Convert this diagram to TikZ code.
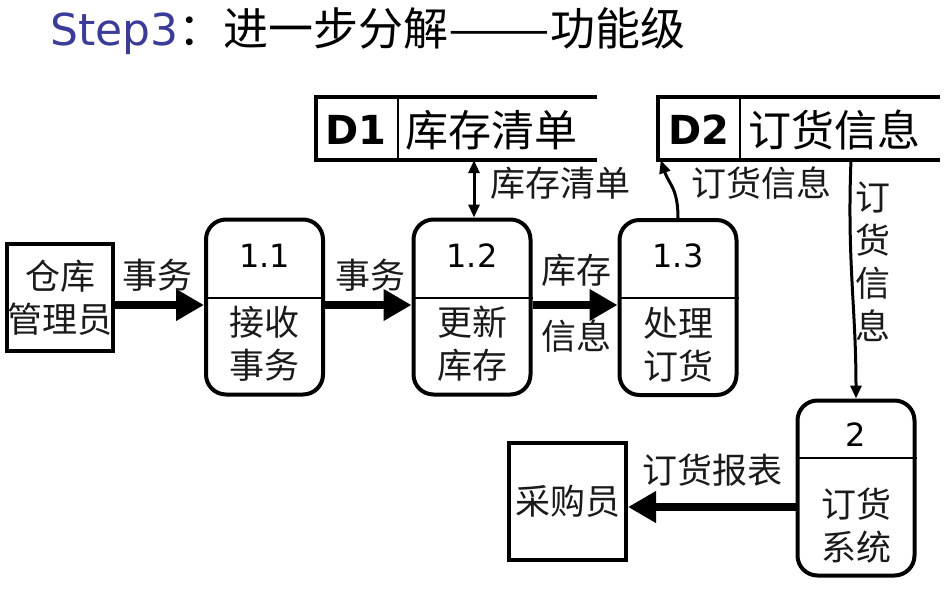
\documentclass[tikz,border=0pt]{standalone}
\usepackage{fontspec}
\setmainfont{DejaVu Sans}
\newfontfamily\cjk{Noto Sans CJK SC}
\usetikzlibrary{arrows.meta}
\definecolor{titleblue}{HTML}{3B3B98}
\definecolor{txt}{HTML}{1A1A1A}
\begin{document}
\begin{tikzpicture}[x=1pt,y=-1pt,
  actor/.style={draw,line width=4pt,minimum width=106pt,minimum height=107pt,inner sep=0pt},
  proc/.style={draw,line width=4pt,rounded corners=20pt,minimum width=117pt,minimum height=175pt,inner sep=0pt},
  divider/.style={line width=2pt},
  cn/.style={font=\cjk\fontsize{35}{43}\selectfont,text=txt,align=center,inner sep=0pt},
  num/.style={font=\fontsize{32}{38}\selectfont,inner sep=0pt},
  storelbl/.style={font=\cjk\fontsize{43}{48}\selectfont,inner sep=0pt},
  storeid/.style={font=\bfseries\fontsize{40}{48}\selectfont,inner sep=0pt},
  bigarrow/.style={line width=8pt,-{Triangle[length=28pt,width=30pt]}},
  thinarrow/.style={line width=3pt,-{Triangle[length=13pt,width=11pt]}},
  thinboth/.style={line width=3pt,{Triangle[length=13pt,width=11pt]}-{Triangle[length=13pt,width=11pt]}}
]
\useasboundingbox (0,0) rectangle (946,595);

% title
\node[anchor=base west,inner sep=0pt] (title) at (50,45)
  {\textcolor{titleblue}{\fontsize{44}{50}\selectfont Step3}{\cjk\fontsize{45}{50}\selectfont ：进一步分解\scalebox{1.35}[1]{——}功能级}};

% external entities
\node[actor,cn] (a1) at (60,297.5) {仓库\\管理员};
\node[actor,cn,minimum width=117pt,minimum height=117pt] (a2) at (567.5,501.5) {采购员};

% processes
\node[proc] (p11) at (264.5,307) {};
\node[num] (n11) at (264.5,256) {1.1};
\node[cn] (t11) at (264.5,344) {接收\\事务};
\draw[divider] (p11.west |- 0,298) -- (p11.east |- 0,298);

\node[proc] (p12) at (472,307) {};
\node[num] (n12) at (472,256) {1.2};
\node[cn] (t12) at (472,344) {更新\\库存};
\draw[divider] (p12.west |- 0,298) -- (p12.east |- 0,298);

\node[proc] (p13) at (678,307.5) {};
\node[num] (n13) at (678,256) {1.3};
\node[cn] (t13) at (678,345) {处理\\订货};
\draw[divider] (p13.west |- 0,298) -- (p13.east |- 0,298);

\node[proc] (p2) at (856,488) {};
\node[num] (n2) at (856,435) {2};
\node[cn] (t2) at (856,526) {订货\\系统};
\draw[divider] (p2.west |- 0,458) -- (p2.east |- 0,458);

% data stores
\node[minimum width=281pt,minimum height=63pt,inner sep=0pt] (d1) at (456.5,128.5) {};
\draw[line width=4pt] (d1.north east) -- (d1.north west) -- (d1.south west) -- (d1.south east);
\draw[line width=1.5pt] (d1.north west -| 398,0) -- (d1.south west -| 398,0);
\node[storeid] (d1id) at (356,130) {D1};
\node[storelbl] (d1t) at (491,130) {库存清单};

\node[minimum width=282pt,minimum height=63pt,inner sep=0pt] (d2) at (799,128.5) {};
\draw[line width=4pt] (d2.north east) -- (d2.north west) -- (d2.south west) -- (d2.south east);
\draw[line width=1.5pt] (d2.north west -| 740,0) -- (d2.south west -| 740,0);
\node[storeid] (d2id) at (699,130) {D2};
\node[storelbl] (d2t) at (834,130) {订货信息};

% flows
\draw[bigarrow] (a1.east |- 0,305) -- (p11.west |- 0,305);
\node[cn] (l1) at (157,275) {事务};
\draw[bigarrow] (p11.east |- 0,305) -- (p12.west |- 0,305);
\node[cn] (l2) at (370,275) {事务};
\draw[bigarrow] (p12.east |- 0,305) -- (p13.west |- 0,305);
\node[cn] (l3a) at (576,270) {库存};
\node[cn] (l3b) at (576,336) {信息};

\draw[thinboth] ([xshift=2pt]d1.south -| p12.north) -- ([xshift=2pt]p12.north);
\node[cn] (l4) at (560,183) {库存清单};

\draw[thinarrow] (p13.north) .. controls +(0,-30) and +(8,24) .. ([xshift=3pt]d2.south west);
\node[cn] (l5) at (761,183) {订货信息};

\draw[thinarrow] ([xshift=-5pt]d2.south -| p2.north) .. controls +(-4,100) and +(0,-90) .. (p2.north);
\node[cn] (l6) at (873,262) {订\\货\\信\\息};

\draw[bigarrow] (p2.west |- 0,507) -- (a2.east |- 0,507);
\node[cn] (l7) at (712,470) {订货报表};
\end{tikzpicture}
\end{document}
